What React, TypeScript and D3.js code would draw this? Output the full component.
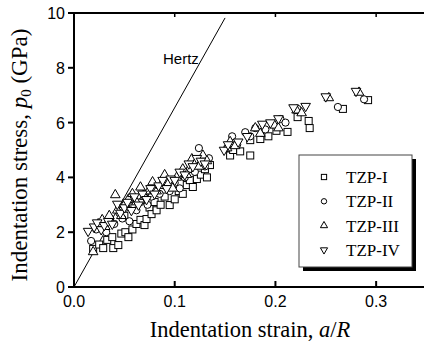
import React from "react";
import * as d3 from "d3";

const xTicks = [0.0, 0.1, 0.2, 0.3];
const yTicks = [0, 2, 4, 6, 8, 10];
const hertzLine: [number, number][] = [[0, 0], [0.15, 9.82]];

const tzp1: [number, number][] = [
  [0.019,1.39],[0.025,1.55],[0.029,1.42],[0.033,1.72],[0.038,1.82],[0.039,1.42],[0.044,1.53],[0.047,1.95],
  [0.051,2.0],[0.054,1.82],[0.05,2.6],[0.058,2.1],[0.06,3.0],[0.062,2.3],[0.066,2.45],[0.07,2.26],[0.07,3.2],
  [0.072,2.48],[0.075,2.9],[0.077,2.66],[0.08,3.1],[0.082,2.8],[0.086,3.0],[0.09,3.3],[0.095,2.99],[0.1,3.2],
  [0.104,3.5],[0.108,3.4],[0.112,3.72],[0.115,3.9],[0.118,3.65],[0.122,3.94],[0.126,4.1],[0.13,4.3],[0.132,4.0],
  [0.135,4.45],[0.155,4.8],[0.158,5.0],[0.165,4.95],[0.175,4.8],[0.175,5.36],[0.185,5.4],[0.189,5.62],
  [0.193,5.5],[0.201,5.7],[0.212,5.66],[0.222,6.2],[0.233,6.06],[0.234,5.8],[0.267,6.5],[0.292,6.82]
];
const tzp2: [number, number][] = [
  [0.017,1.68],[0.022,2.1],[0.028,2.2],[0.032,2.0],[0.036,2.5],[0.04,2.3],[0.045,2.7],[0.048,2.5],[0.052,2.9],
  [0.055,2.4],[0.058,3.2],[0.062,2.8],[0.066,3.1],[0.07,3.4],[0.073,3.0],[0.077,3.3],[0.08,3.6],[0.085,3.4],
  [0.09,3.7],[0.095,3.5],[0.1,3.8],[0.105,3.6],[0.11,4.0],[0.115,4.3],[0.12,4.2],[0.124,5.07],[0.127,4.6],
  [0.13,4.4],[0.134,4.7],[0.152,5.07],[0.157,5.5],[0.162,5.2],[0.17,5.65],[0.175,5.5],[0.18,5.8],[0.19,5.75],
  [0.205,6.13],[0.21,6.0],[0.222,6.5],[0.262,6.57],[0.288,6.85]
];
const tzp3: [number, number][] = [
  [0.019,1.28],[0.024,2.3],[0.028,2.45],[0.031,2.2],[0.035,2.6],[0.041,3.36],[0.043,2.8],[0.047,2.6],[0.05,3.0],
  [0.054,3.2],[0.058,3.4],[0.062,3.1],[0.066,3.64],[0.07,3.3],[0.074,3.5],[0.078,3.83],[0.082,3.5],[0.086,3.7],
  [0.09,4.09],[0.094,3.8],[0.098,3.6],[0.102,4.0],[0.108,4.3],[0.112,4.1],[0.117,4.67],[0.12,4.5],[0.124,4.4],
  [0.128,4.8],[0.132,4.6],[0.152,5.07],[0.155,5.3],[0.16,5.15],[0.18,5.8],[0.185,5.6],[0.199,5.9],[0.203,5.8],
  [0.221,6.45],[0.226,6.35],[0.253,6.9],[0.283,7.1]
];
const tzp4: [number, number][] = [
  [0.014,2.04],[0.02,2.2],[0.023,2.35],[0.027,2.1],[0.03,2.25],[0.034,2.4],[0.038,2.3],[0.043,3.03],[0.046,2.7],
  [0.05,2.9],[0.053,3.1],[0.057,2.8],[0.06,3.3],[0.064,3.0],[0.068,3.4],[0.072,3.2],[0.076,3.6],[0.08,3.4],
  [0.084,3.7],[0.088,3.9],[0.092,3.6],[0.096,3.95],[0.1,3.9],[0.105,4.2],[0.11,4.1],[0.114,4.5],[0.118,4.4],
  [0.122,4.7],[0.126,4.6],[0.13,4.5],[0.149,5.0],[0.153,5.2],[0.163,5.3],[0.172,5.5],[0.187,5.95],[0.195,6.0],
  [0.203,6.15],[0.218,6.55],[0.23,6.6],[0.25,6.95],[0.28,7.15]
];
const seriesNames = ["TZP-I", "TZP-II", "TZP-III", "TZP-IV"];
const seriesData = [tzp1, tzp2, tzp3, tzp4];

const W = 424, H = 345;
const x = d3.scaleLinear().domain([0, 0.35]).range([74, 426.5]);
const y = d3.scaleLinear().domain([0, 10]).range([287, 13]);
const SANS = "Liberation Sans, Arial, sans-serif";
const SERIF = "Liberation Serif, Times New Roman, serif";

function Marker({ kind, cx, cy, s = 1 }: { kind: number; cx: number; cy: number; s?: number }) {
  const common = { fill: "white", stroke: "black", strokeWidth: 1 };
  if (kind === 0) {
    const h = 3.5 * s;
    return <rect x={cx - h} y={cy - h} width={2 * h} height={2 * h} {...common} />;
  }
  if (kind === 1) return <circle cx={cx} cy={cy} r={3.6 * s} {...common} />;
  const tri = d3.symbol().type(d3.symbolTriangle).size(40 * s * s)();
  if (kind === 2) return <path d={tri as string} transform={`translate(${cx},${cy})`} {...common} />;
  return <path d={tri as string} transform={`translate(${cx},${cy}) rotate(180)`} {...common} />;
}

export default function App() {
  const hertz = d3.line<[number, number]>().x(d => x(d[0])).y(d => y(d[1]))(hertzLine) as string;
  const legX = 299, legY = 155, legW = 113, legH = 112;
  return (
    <svg width={W} height={H} style={{ position: "absolute", left: 0, top: 0, background: "white" }}>
      <rect width={W} height={H} fill="white" />
      <path d={hertz} stroke="black" strokeWidth={1} fill="none" />
      <text x={163} y={64} fontFamily={SANS} fontSize={15}>Hertz</text>
      {seriesData.map((data, k) => (
        <g key={k}>
          {data.map((d, i) => <Marker key={i} kind={k} cx={x(d[0])} cy={y(d[1])} />)}
        </g>
      ))}
      <line x1={74} x2={W} y1={y(0)} y2={y(0)} stroke="black" strokeWidth={2} />
      <line x1={74} x2={W} y1={y(10)} y2={y(10)} stroke="black" strokeWidth={2} />
      <line x1={x(0)} x2={x(0)} y1={y(10) - 1} y2={y(0) + 1} stroke="black" strokeWidth={2} />
      {yTicks.map(t => (
        <g key={t}>
          <line x1={x(0) - 6} x2={x(0)} y1={y(t)} y2={y(t)} stroke="black" strokeWidth={2} />
          <text x={65} y={y(t) + 6} textAnchor="end" fontFamily={SANS} fontSize={16}>{t}</text>
        </g>
      ))}
      {xTicks.map(t => (
        <g key={t}>
          <line x1={x(t)} x2={x(t)} y1={y(0)} y2={y(0) - 6} stroke="black" strokeWidth={2} />
          <line x1={x(t)} x2={x(t)} y1={y(10)} y2={y(10) + 4} stroke="black" strokeWidth={1.5} />
          <text x={x(t)} y={307} textAnchor="middle" fontFamily={SANS} fontSize={16}>{t.toFixed(1)}</text>
        </g>
      ))}
      <text x={250} y={337} textAnchor="middle" fontFamily={SERIF} fontSize={22.5}>
        Indentation strain, <tspan fontStyle="italic">a</tspan>/<tspan fontStyle="italic">R</tspan>
      </text>
      <text transform={`translate(27,155) rotate(-90)`} textAnchor="middle" fontFamily={SERIF} fontSize={23}>
        Indentation stress, <tspan fontStyle="italic">p</tspan><tspan fontSize={15} dy={4}>0</tspan><tspan dy={-4}> (GPa)</tspan>
      </text>
      <rect x={legX + 4} y={legY + 4} width={legW} height={legH} fill="black" />
      <rect x={legX} y={legY} width={legW} height={legH} fill="white" stroke="#444" strokeWidth={1} />
      {seriesNames.map((n, k) => (
        <g key={n}>
          <Marker kind={k} cx={324} cy={177 + k * 24.3} s={0.75} />
          <text x={346} y={177 + k * 24.3 + 6} fontFamily={SERIF} fontSize={17}>{n}</text>
        </g>
      ))}
    </svg>
  );
}
